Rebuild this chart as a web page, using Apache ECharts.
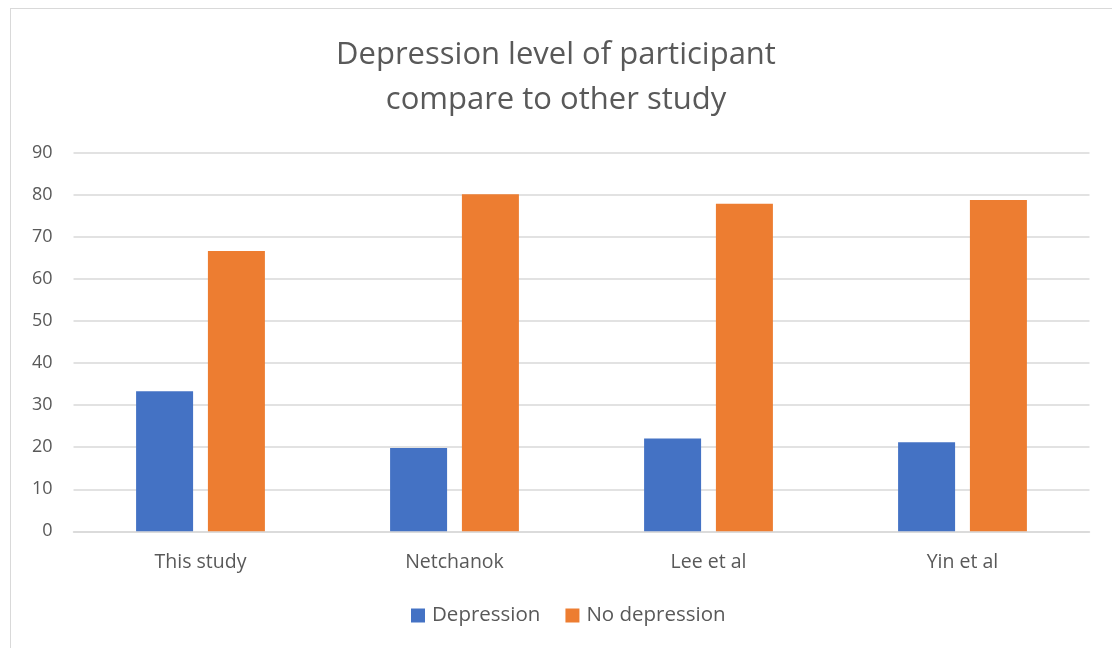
<!DOCTYPE html>
<html>
<head>
<meta charset="utf-8">
<title>Depression level of participant compare to other study</title>
<script src="https://cdn.jsdelivr.net/npm/echarts@6/dist/echarts.min.js"></script>
<style>
  html, body { margin: 0; padding: 0; background: #ffffff; }
  #frame {
    position: absolute; left: 10px; top: 8px; width: 1120px; height: 660px;
    border: 1px solid #d9d9d9; box-sizing: border-box;
  }
  #chart { position: absolute; left: 0; top: 0; width: 1112px; height: 648px; }
</style>
</head>
<body>
<div id="frame"></div>
<div id="chart"></div>
<script>
// Studies compared
const categories = ['This study', 'Netchanok', 'Lee et al', 'Yin et al'];
// Share of participants (%) in each group
const depression = [33.3, 19.8, 22.1, 21.2];
const noDepression = [66.7, 80.2, 77.9, 78.8];
// Value axis ticks
const yTicks = [0, 10, 20, 30, 40, 50, 60, 70, 80, 90];

const FONT = '"Open Sans", "Noto Sans", sans-serif';
const TEXT = '#595959';

const chart = echarts.init(document.getElementById('chart'), null, { renderer: 'canvas' });
chart.setOption({
  animation: false,
  backgroundColor: 'transparent',
  title: {
    text: 'Depression level of participant\ncompare to other study',
    left: 'center',
    top: 28,
    textStyle: {
      fontFamily: FONT,
      fontSize: 31,
      fontWeight: 'normal',
      color: TEXT,
      lineHeight: 45
    }
  },
  legend: {
    bottom: 17,
    left: 406,
    itemWidth: 14,
    itemHeight: 14,
    itemGap: 25,
    icon: 'rect',
    textStyle: { fontFamily: FONT, fontSize: 20.5, color: TEXT, padding: [0, 0, 0, 2] },
    data: ['Depression', 'No depression']
  },
  grid: { left: 73.5, right: 22.5, top: 153, bottom: 116.7, containLabel: false },
  xAxis: {
    type: 'category',
    data: categories,
    axisTick: { show: false },
    axisLine: { show: true, lineStyle: { color: '#d9d9d9', width: 1.5 } },
    axisLabel: { fontFamily: FONT, fontSize: 19.5, color: TEXT, margin: 21 }
  },
  yAxis: {
    type: 'value',
    min: yTicks[0],
    max: yTicks[yTicks.length - 1],
    interval: yTicks[1] - yTicks[0],
    axisLine: { show: false },
    axisTick: { show: false },
    splitLine: { lineStyle: { color: '#d9d9d9', width: 1.5 } },
    axisLabel: { fontFamily: FONT, fontSize: 18, color: TEXT, margin: 21 }
  },
  series: [
    {
      name: 'Depression',
      type: 'bar',
      data: depression,
      barWidth: 57,
      barGap: '26%',
      itemStyle: { color: '#4472C4' }
    },
    {
      name: 'No depression',
      type: 'bar',
      data: noDepression,
      barWidth: 57,
      barGap: '26%',
      itemStyle: { color: '#ED7D31' }
    }
  ]
});
</script>
</body>
</html>
